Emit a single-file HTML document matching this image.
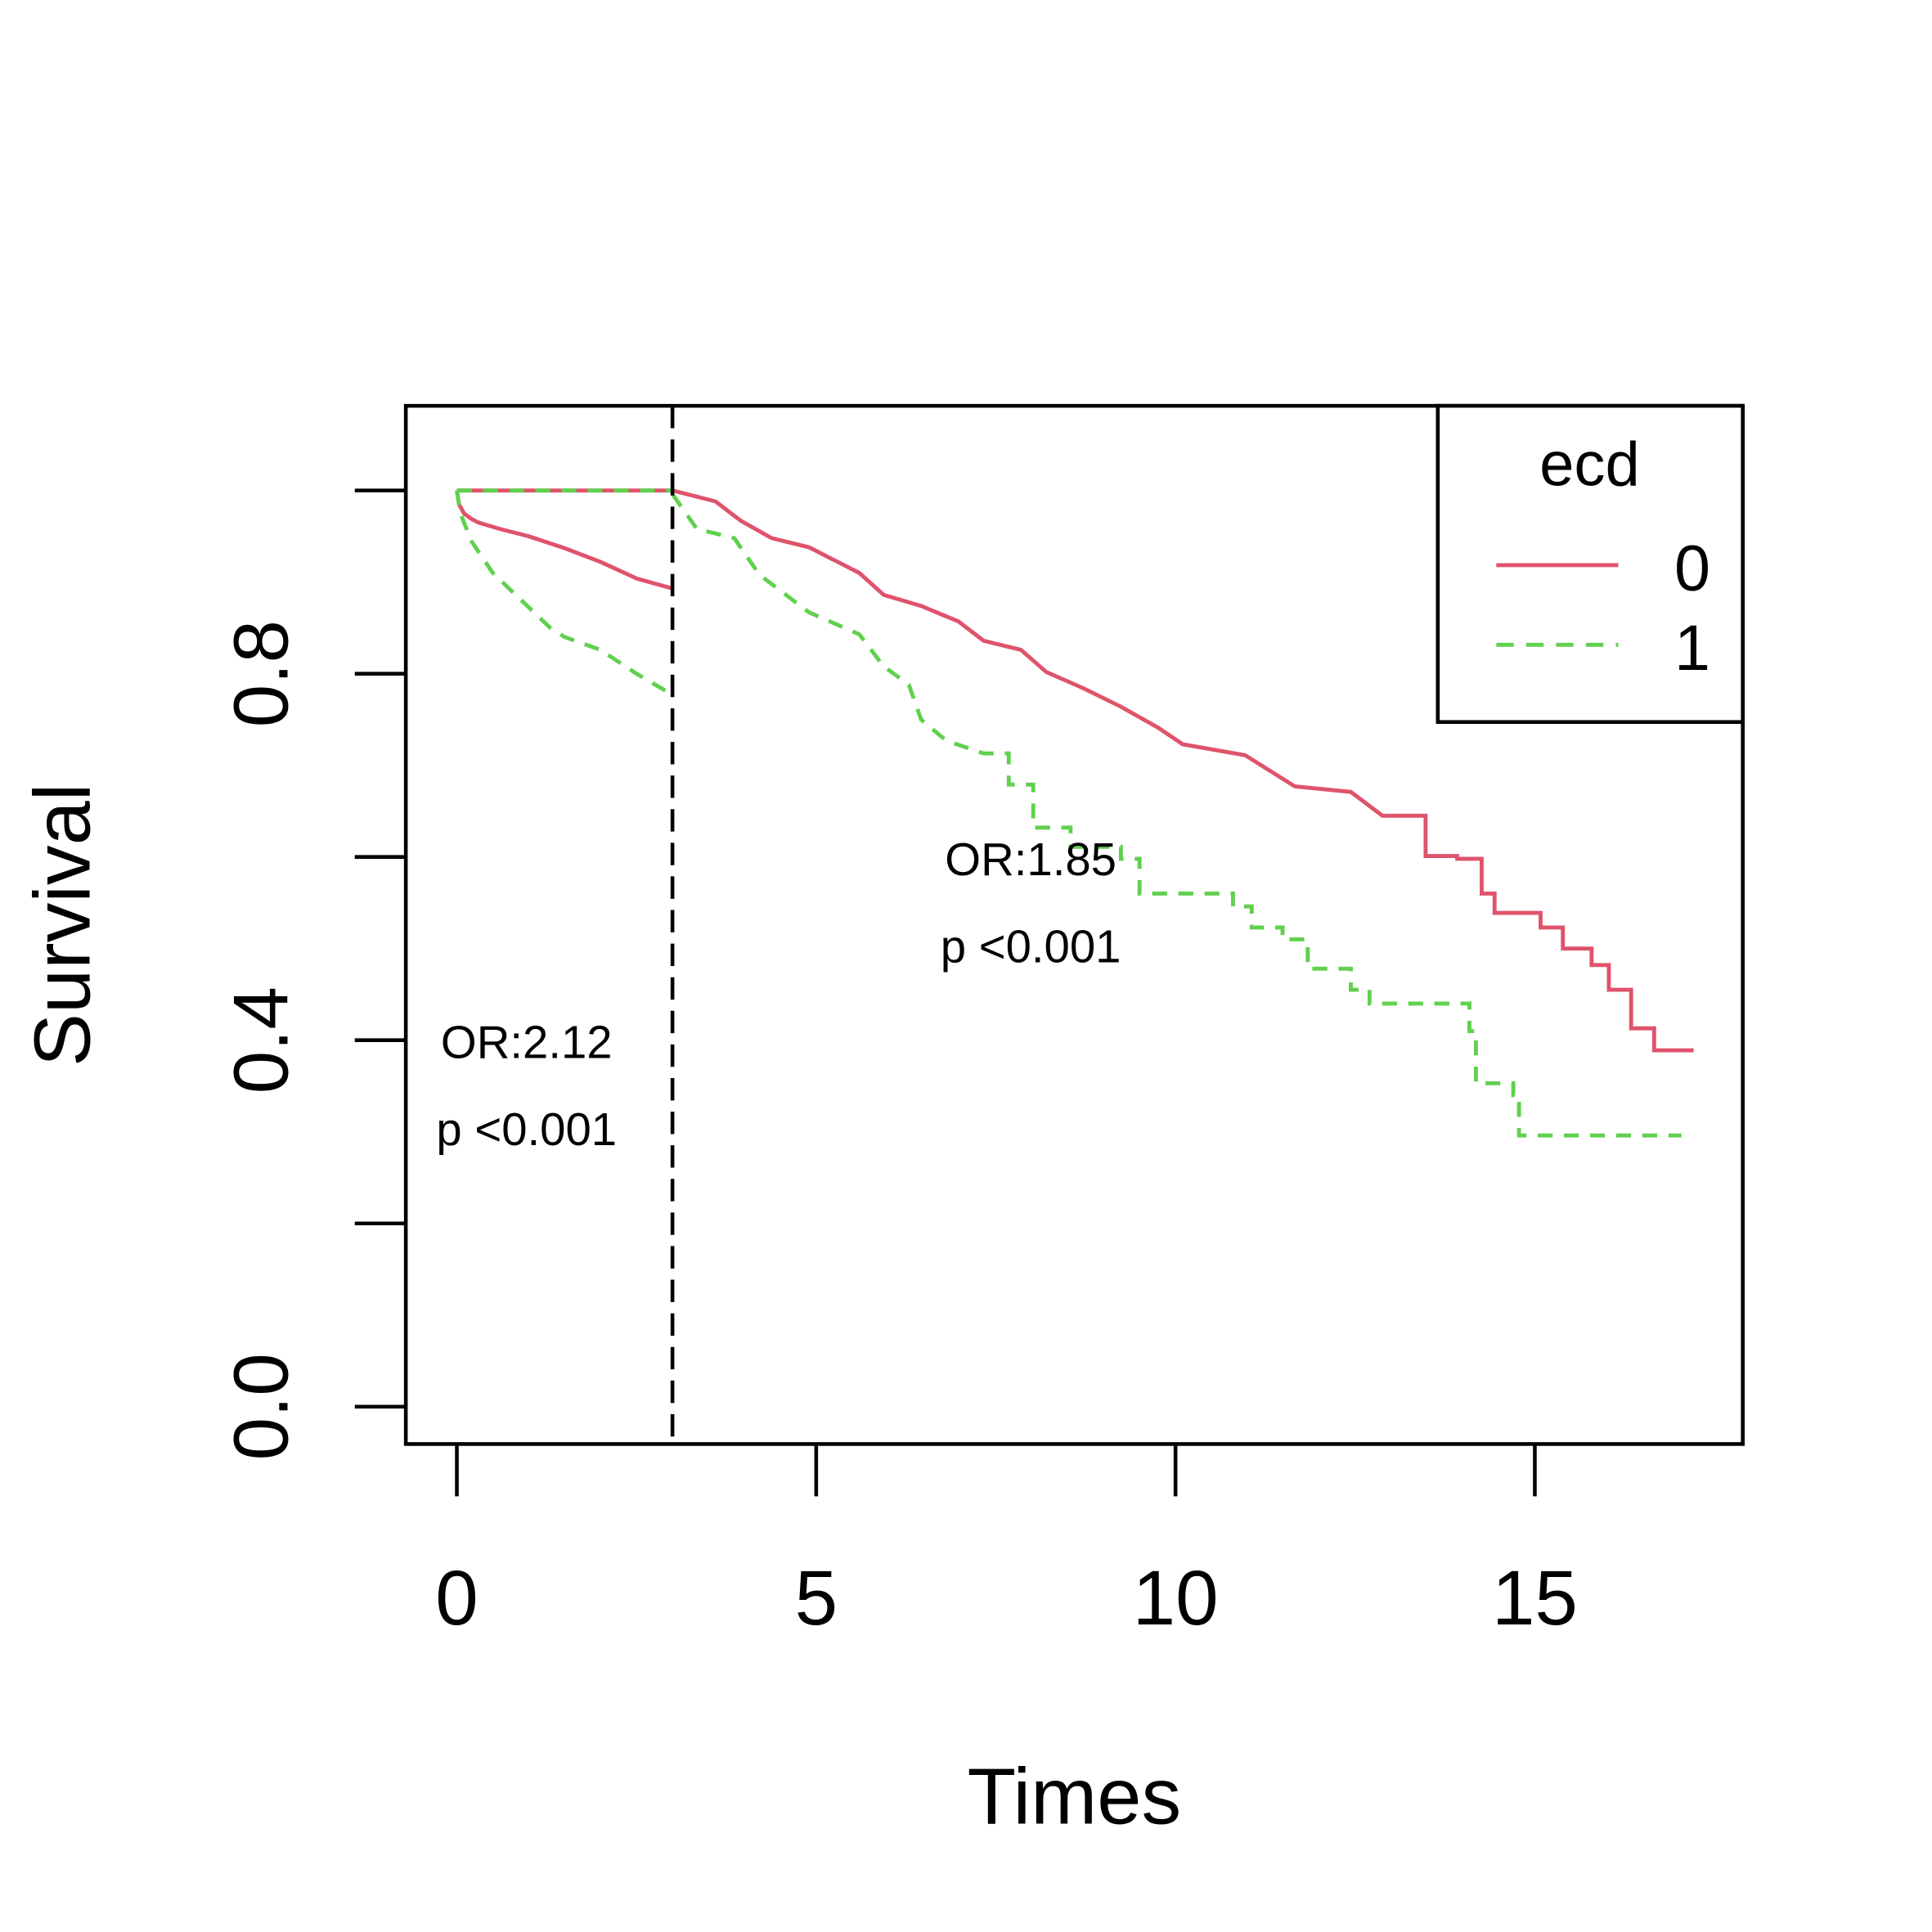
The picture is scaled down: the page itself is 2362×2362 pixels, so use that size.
<!DOCTYPE html>
<html><head><meta charset="utf-8"><style>html,body{margin:0;padding:0;background:#fff}svg{display:block}text{font-family:"Liberation Sans",sans-serif;fill:#000}</style></head>
<body>
<svg id="chart" width="2362" height="2362" viewBox="0 0 1552 1552" xmlns="http://www.w3.org/2000/svg">
<g id="marks"></g>
<rect x="326" y="326" width="1074" height="834" fill="none" stroke="#000" stroke-width="3"/>
<g id="axes"></g>
<text x="863" y="1465" font-size="64" text-anchor="middle">Times</text>
<text transform="translate(72,743) rotate(-90)" font-size="64" text-anchor="middle">Survival</text>
<text x="423" y="850" font-size="37" text-anchor="middle">OR:2.12</text>
<text x="423" y="920" font-size="37" text-anchor="middle">p &lt;0.001</text>
<text x="828" y="703" font-size="37" text-anchor="middle">OR:1.85</text>
<text x="828" y="773" font-size="37" text-anchor="middle">p &lt;0.001</text>
<g>
<rect x="1155" y="326" width="245" height="254" fill="#fff" stroke="#000" stroke-width="3"/>
<text x="1277" y="390" font-size="50" text-anchor="middle">ecd</text>
<line x1="1202" y1="454" x2="1300" y2="454" stroke="#DF536B" stroke-width="3.2"/>
<text x="1345" y="474" font-size="52">0</text>
<line x1="1202" y1="518" x2="1300" y2="518" stroke="#61D04F" stroke-width="3.2" stroke-dasharray="14,10"/>
<text x="1345" y="538" font-size="52">1</text>
</g>
</svg>
<script>
const xTicks=[0,5,10,15];
const yTicks=[0,0.2,0.4,0.6,0.8,1.0];
const yTickLabels=["0.0","0.4","0.8"];
const yTickLabelVals=[0,0.4,0.8];
const cutTime=3;
const redStepFrom=13.4;
const greenStepFrom=7.5;
const redEarlyT=[0,0.03,0.1,0.2,0.3,0.6,1,1.5,2,2.5,3];
const redEarlyS=[1,0.985,0.975,0.969,0.965,0.958,0.95,0.937,0.922,0.904,0.893];
const greenEarlyT=[0,0.05,0.2,0.5,0.9,1.3,1.5,2,2.5,3];
const greenEarlyS=[1,0.975,0.945,0.91,0.88,0.85,0.84,0.826,0.8,0.777];
const redLateT=[3,3.6,3.95,4.38,4.9,5.6,5.94,6.46,6.98,7.33,7.85,8.2,8.72,9.24,9.76,10.1,10.97,11.66,12.44,12.88,13.48,13.92,14.26,14.44,15.08,15.39,15.79,16.03,16.34,16.66,17.21];
const redLateS=[1,0.988,0.967,0.948,0.938,0.91,0.886,0.874,0.857,0.836,0.826,0.802,0.784,0.764,0.741,0.723,0.711,0.677,0.671,0.645,0.601,0.598,0.56,0.539,0.523,0.5,0.482,0.455,0.413,0.389,0.389];
const greenLateT=[3,3.34,3.86,4.21,4.9,5.6,5.94,6.29,6.46,6.81,7.33,7.68,8.02,8.54,9.24,9.5,10.8,11.06,11.49,11.84,12.44,12.7,13.83,14.09,14.18,14.7,14.78,17.04];
const greenLateS=[0.996,0.958,0.948,0.908,0.867,0.843,0.808,0.788,0.75,0.727,0.713,0.679,0.632,0.611,0.598,0.56,0.546,0.523,0.51,0.478,0.455,0.44,0.44,0.41,0.353,0.34,0.296,0.296];
const X=t=>367+t*57.73;
const Y=s=>1130-s*736;
const NS="http://www.w3.org/2000/svg";
const marks=document.getElementById('marks'),axes=document.getElementById('axes');
function mk(tag,attrs,parent){const e=document.createElementNS(NS,tag);for(const k in attrs)e.setAttribute(k,attrs[k]);parent.appendChild(e);return e;}
function curvePath(T,S,stepFrom){let d='M'+X(T[0])+','+Y(S[0]);for(let i=1;i<T.length;i++){if(T[i]<=stepFrom){d+=' L'+X(T[i])+','+Y(S[i]);}else{d+=' H'+X(T[i])+' V'+Y(S[i]);}}return d;}
let p=mk('path',{d:'M'+X(0)+','+Y(1)+' H'+X(cutTime),fill:'none',stroke:'#DF536B','stroke-width':3.2},marks);


p=mk('path',{d:'M'+X(0)+','+Y(1)+' H'+X(cutTime),fill:'none',stroke:'#61D04F','stroke-width':3.2,'stroke-dasharray':'12,9'},marks);


p=mk('path',{d:curvePath(redEarlyT,redEarlyS,99),fill:'none',stroke:'#DF536B','stroke-width':3.2},marks);


p=mk('path',{d:curvePath(greenEarlyT,greenEarlyS,99),fill:'none',stroke:'#61D04F','stroke-width':3.2,'stroke-dasharray':'12,9'},marks);


p=mk('path',{d:curvePath(redLateT,redLateS,redStepFrom),fill:'none',stroke:'#DF536B','stroke-width':3.2},marks);


p=mk('path',{d:curvePath(greenLateT,greenLateS,greenStepFrom),fill:'none',stroke:'#61D04F','stroke-width':3.2,'stroke-dasharray':'12,9'},marks);


p=mk('line',{x1:X(cutTime),x2:X(cutTime),y1:326,y2:1160,stroke:'#000','stroke-width':3,'stroke-dasharray':'18,9'},marks);


xTicks.forEach(v=>{
 let l=mk('line',{x1:X(v),x2:X(v),y1:1160,y2:1202,stroke:'#000','stroke-width':3},axes);
 
 
 let t=mk('text',{x:X(v),y:1305,'font-size':62,'text-anchor':'middle'},axes);t.textContent=v;
 
 
});
yTicks.forEach(v=>{
 let l=mk('line',{x1:285,x2:326,y1:Y(v),y2:Y(v),stroke:'#000','stroke-width':3},axes);
 
 
});
yTickLabelVals.forEach((v,i)=>{
 let t=mk('text',{transform:'translate(231,'+Y(v)+') rotate(-90)','font-size':62,'text-anchor':'middle'},axes);t.textContent=yTickLabels[i];
 
 
});
</script>
</body></html>
